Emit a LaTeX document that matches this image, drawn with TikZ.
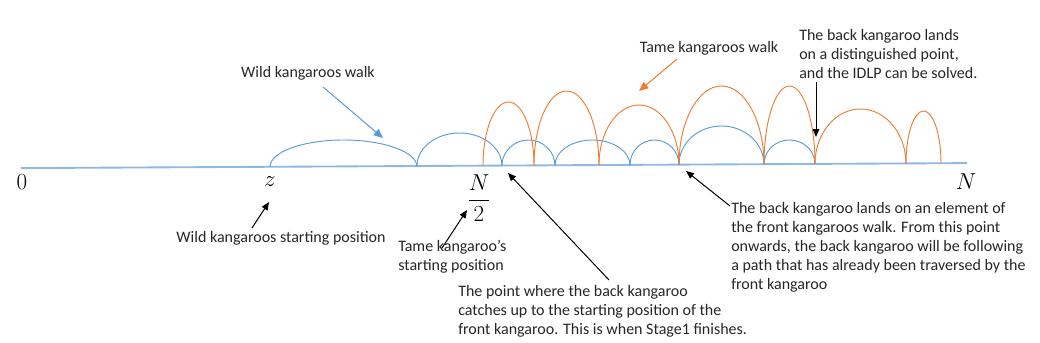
\documentclass[tikz,border=0pt]{standalone}
\usepackage[no-math]{fontspec}
\setmainfont{Carlito}
\usetikzlibrary{arrows.meta}
\definecolor{kblue}{HTML}{5B9BD5}
\definecolor{korange}{HTML}{ED7D31}
\definecolor{kline}{HTML}{8DB9E2}
\begin{document}
\begin{tikzpicture}[x=0.75pt,y=-0.75pt,
  txt/.style={inner sep=0pt, font=\fontsize{12}{14.25}\selectfont, text=black!85},
  mtxt/.style={inner sep=0pt, font=\fontsize{17.5}{20}\selectfont},
  wild/.style={draw=kblue, line width=0.7pt},
  tame/.style={draw=korange, line width=0.7pt},
  axisline/.style={draw=kline, line width=1.4pt},
  blkarrow/.style={draw=black, line width=0.75pt, -{Triangle[length=6pt,width=5pt]}},
  bluearrow/.style={draw=kblue, line width=0.75pt, -{Triangle[length=7pt,width=6pt]}},
  orangearrow/.style={draw=korange, line width=0.75pt, -{Triangle[length=7pt,width=6pt]}}]
\useasboundingbox (0,0) rectangle (1040,343);

% number line
\coordinate (lineL) at (21,168.1);
\coordinate (lineR) at (967,163.1);
\draw[axisline] (lineL) -- (lineR);

% wild kangaroo walk (blue)
\draw[wild] (270,166.8) arc[start angle=180,end angle=0,x radius=55.125pt,y radius=20.1pt];
\draw[wild] (417,166.0) arc[start angle=180,end angle=0,x radius=31.875pt,y radius=24.75pt];
\draw[wild] (502,165.6) arc[start angle=180,end angle=0,x radius=19.875pt,y radius=19.2pt];
\draw[wild] (555,165.3) arc[start angle=180,end angle=0,x radius=28.125pt,y radius=18.975pt];
\draw[wild] (630,164.9) arc[start angle=180,end angle=0,x radius=18.375pt,y radius=18.675pt];
\draw[wild] (679,164.6) arc[start angle=180,end angle=0,x radius=31.875pt,y radius=28.95pt];
\draw[wild] (764,164.2) arc[start angle=180,end angle=0,x radius=19.125pt,y radius=18.15pt];

% tame kangaroo walk (orange)
\draw[tame] (483,165.7) arc[start angle=180,end angle=0,x radius=19.125pt,y radius=47.775pt];
\draw[tame] (534,165.4) arc[start angle=180,end angle=0,x radius=24.375pt,y radius=55.8pt];
\draw[tame] (599,165.0) arc[start angle=180,end angle=0,x radius=30pt,y radius=45pt];
\draw[tame] (679,164.6) arc[start angle=180,end angle=0,x radius=31.875pt,y radius=58.95pt];
\draw[tame] (764,164.2) arc[start angle=180,end angle=0,x radius=19.125pt,y radius=58.65pt];
\draw[tame] (815,163.9) arc[start angle=180,end angle=0,x radius=34.125pt,y radius=41.175pt];
\draw[tame] (906,163.4) arc[start angle=180,end angle=0,x radius=13.125pt,y radius=39.3pt];

% math labels
\node[mtxt] (zero) at (22,182) {$0$};
\node[mtxt] (zlab) at (270,182) {$z$};
\node[mtxt] (half) at (479,198) {$\displaystyle\frac{N}{2}$};
\node[mtxt] (nlab) at (966,182) {$N$};

% text labels
\node[txt] (wildwalk) at (308,73) {Wild kangaroos walk};
\node[txt] (tamewalk) at (709,48) {Tame kangaroos walk};
\node[txt, anchor=north west, align=left] (solved) at (799,29)
  {The back kangaroo lands\\on a distinguished point,\\and the IDLP can be solved.};
\node[txt] (wildstart) at (281,238) {Wild kangaroos starting position};
\node[txt, anchor=north west, align=left] (tamestart) at (398,240)
  {Tame kangaroo’s\\starting position};
\node[txt, anchor=north west, align=left] (stage1) at (458,285)
  {The point where the back kangaroo\\catches up to the starting position of the\\front kangaroo. This is when Stage1 finishes.};
\node[txt, anchor=north west, align=left] (element) at (731,202)
  {The back kangaroo lands on an element of\\the front kangaroos walk. From this point\\onwards, the back kangaroo will be following\\a path that has already been traversed by the\\front kangaroo};

% arrow end points
\coordinate (wwT) at (323,87);   \coordinate (wwH) at (383,138);
\coordinate (twT) at (677,59);   \coordinate (twH) at (639,91);
\coordinate (svT) at (816,82);   \coordinate (svH) at (816,137);
\coordinate (wsT) at (252,228);  \coordinate (wsH) at (269,202);
\coordinate (tsT) at (442,248);  \coordinate (tsH) at (467,210);
\coordinate (s1T) at (609,280);  \coordinate (s1H) at (508,173);
\coordinate (elT) at (730,206);  \coordinate (elH) at (686,171);

\draw[bluearrow] (wwT) -- (wwH);
\draw[orangearrow] (twT) -- (twH);
\draw[blkarrow] (svT) -- (svH);
\draw[blkarrow] (wsT) -- (wsH);
\draw[blkarrow] (tsT) -- (tsH);
\draw[blkarrow] (s1T) -- (s1H);
\draw[blkarrow] (elT) -- (elH);
\end{tikzpicture}
\end{document}
